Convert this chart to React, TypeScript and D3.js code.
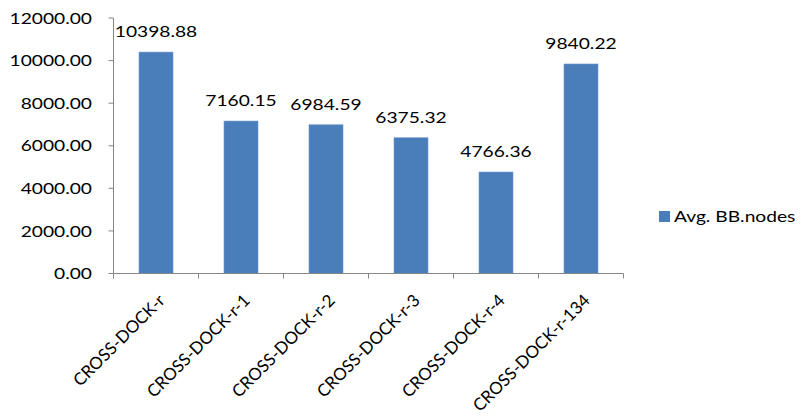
import React from "react";
import * as d3 from "d3";

const categories = ["CROSS-DOCK-r", "CROSS-DOCK-r-1", "CROSS-DOCK-r-2", "CROSS-DOCK-r-3", "CROSS-DOCK-r-4", "CROSS-DOCK-r-134"];
const values = [10398.88, 7160.15, 6984.59, 6375.32, 4766.36, 9840.22];
const yTicks = [0, 2000, 4000, 6000, 8000, 10000, 12000];
const seriesName = "Avg. BB.nodes";

const W = 801, H = 418;
const left = 113.5, right = 623.5, top = 18, bottom = 273.5;
const FONT = "Lato, 'Open Sans', sans-serif";
const FS = 16;
const SX = 1.2;
const BAR = "#4a7ebb";
const AXIS = "#868686";

export default function App() {
  const x = d3.scaleBand<string>().domain(categories).range([left, right]).paddingInner(0.6).paddingOuter(0.3);
  const xb = d3.scaleBand<string>().domain(categories).range([left, right]);
  const y = d3.scaleLinear().domain([0, 12000]).range([bottom, top]);
  return (
    <svg width={W} height={H} style={{ position: "absolute", left: 0, top: 0, background: "#fff" }} fontFamily={FONT}>
      {/* bars */}
      {categories.map((c, i) => (
        <rect key={c} x={x(c)} y={y(values[i])} width={x.bandwidth()} height={bottom - y(values[i])} fill={BAR} stroke="#6f98cc" strokeWidth={0.6} />
      ))}
      {/* data labels */}
      {categories.map((c, i) => (
        <text key={c} transform={`translate(${(x(c) as number) + x.bandwidth() / 2},${y(values[i]) - 15}) scale(${SX},1)`} textAnchor="middle" fontSize={FS} fill="#000">
          {values[i].toFixed(2)}
        </text>
      ))}
      {/* y axis */}
      <line x1={left} x2={left} y1={top} y2={bottom} stroke={AXIS} strokeWidth={1} />
      {yTicks.map((t) => (
        <g key={t}>
          <line x1={left - 5} x2={left} y1={y(t)} y2={y(t)} stroke={AXIS} />
          <text transform={`translate(92,${y(t)}) scale(${SX},1)`} dy="0.35em" textAnchor="end" fontSize={FS} fill="#000">
            {t.toFixed(2)}
          </text>
        </g>
      ))}
      {/* x axis */}
      <line x1={left} x2={right} y1={bottom} y2={bottom} stroke={AXIS} strokeWidth={1} />
      {categories.map((c) => (
        <line key={c} x1={(xb(c) as number)} x2={(xb(c) as number)} y1={bottom} y2={bottom + 5} stroke={AXIS} />
      ))}
      <line x1={right} x2={right} y1={bottom} y2={bottom + 5} stroke={AXIS} />
      {categories.map((c) => {
        const cx = (xb(c) as number) + xb.bandwidth() / 2 + 10;
        const cy = bottom + 28;
        return (
          <text key={c} transform={`translate(${cx},${cy}) rotate(-45)`} textAnchor="end" fontSize={17} fill="#000">
            {c}
          </text>
        );
      })}
      {/* legend */}
      <rect x={659} y={211} width={11} height={11} fill={BAR} />
      <text transform={`translate(674,222) scale(${SX},1)`} fontSize={FS} fill="#000">{seriesName}</text>
    </svg>
  );
}
